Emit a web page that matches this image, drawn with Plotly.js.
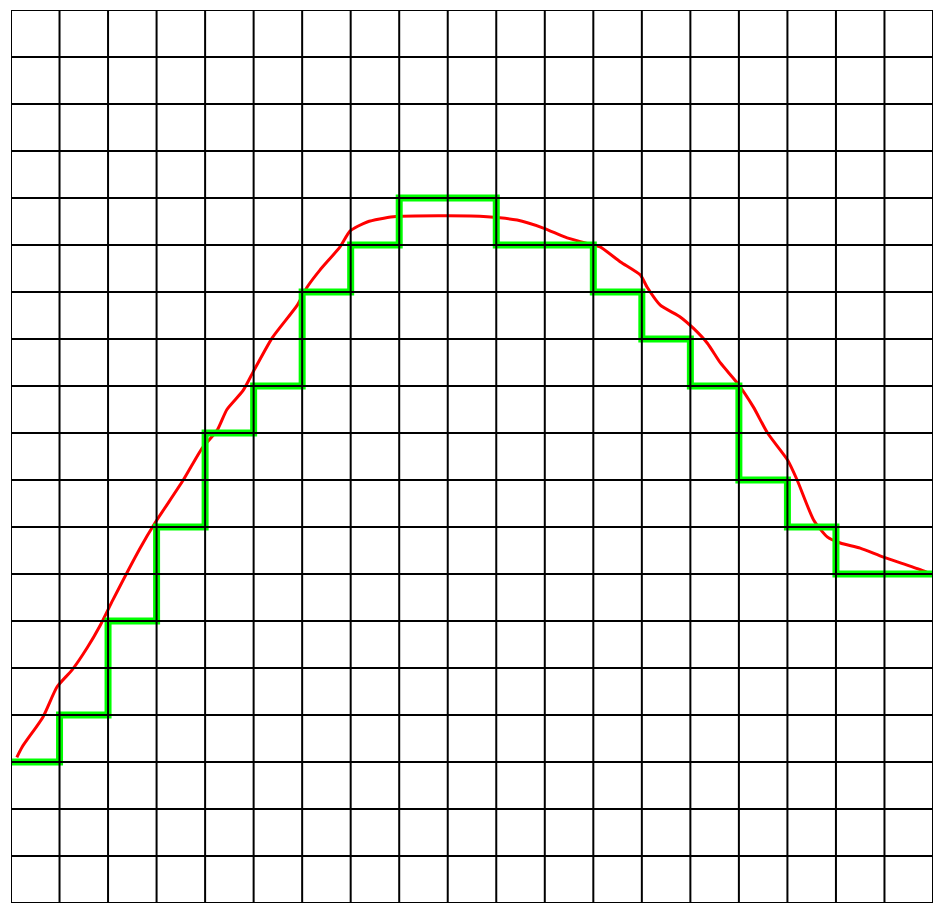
<!DOCTYPE html>
<html>
<head>
<meta charset="utf-8">
<script src="https://cdn.plot.ly/plotly-3.0.1.min.js"></script>
<style>html,body{margin:0;padding:0;background:#fff;}#chart{width:944px;height:916px;}</style>
</head>
<body>
<div id="chart"></div>
<script>
// Step series (green): value of each grid column, last value repeated to close the step
const stepX = [0,1,2,3,4,5,6,7,8,9,10,11,12,13,14,15,16,17,18,19];
const stepY = [3,4,6,8,10,11,13,14,15,15,14,14,13,12,11,9,8,7,7,7];

// Smooth series (red)
const curveX = [0.12,0.23,0.66,0.95,1.26,1.57,1.84,2.1,2.66,2.97,3.55,3.94,4.25,4.45,4.78,4.99,5.38,5.9,6.1,6.37,6.78,6.99,7.34,7.88,8.99,9.81,10.43,10.97,11.46,12.0,12.14,12.56,12.97,13.11,13.38,13.79,14.06,14.35,14.62,14.97,15.3,15.59,16.0,16.2,16.54,16.82,17.09,17.5,17.98,18.74,18.95];
const curveY = [3.1,3.32,3.96,4.6,4.96,5.43,5.91,6.45,7.55,8.09,9.0,9.68,10.06,10.5,10.9,11.3,12.02,12.72,13.1,13.47,13.96,14.3,14.49,14.6,14.62,14.6,14.53,14.36,14.15,14.0,13.96,13.64,13.36,13.1,12.72,12.47,12.23,11.91,11.49,11.06,10.55,10.0,9.43,9.0,8.15,7.79,7.66,7.55,7.36,7.09,7.0];

const xCount = 19, yCount = 19;

const shapes = [];
for (let i = 0; i <= xCount; i++) {
  shapes.push({type:'line', xref:'x', yref:'paper', x0:i, x1:i, y0:0, y1:1, layer:'above', line:{color:'#000', width:2}});
}
for (let j = 0; j <= yCount; j++) {
  shapes.push({type:'line', xref:'paper', yref:'y', x0:0, x1:1, y0:j, y1:j, layer:'above', line:{color:'#000', width:2}});
}

const traces = [
  {x: curveX, y: curveY, mode:'lines', type:'scatter', line:{color:'#ff0000', width:3, shape:'spline', smoothing:0.6}, hoverinfo:'skip'},
  {x: stepX, y: stepY, mode:'lines', type:'scatter', line:{color:'#00ff00', width:7, shape:'hv'}, hoverinfo:'skip'}
];

const layout = {
  width:944, height:916,
  margin:{l:11, r:11, t:10, b:13, pad:0},
  paper_bgcolor:'#fff', plot_bgcolor:'#fff',
  showlegend:false,
  xaxis:{range:[0,xCount], showgrid:false, zeroline:false, showticklabels:false, ticks:'', fixedrange:true},
  yaxis:{range:[0,yCount], showgrid:false, zeroline:false, showticklabels:false, ticks:'', fixedrange:true},
  shapes: shapes
};

Plotly.newPlot('chart', traces, layout, {displayModeBar:false, staticPlot:true});
</script>
</body>
</html>
